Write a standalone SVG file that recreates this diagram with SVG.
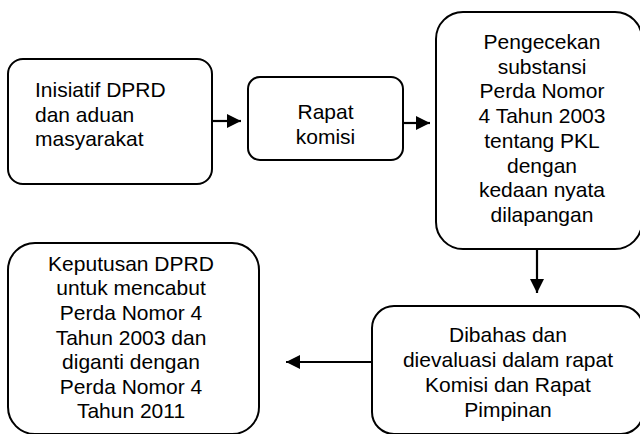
<svg xmlns="http://www.w3.org/2000/svg" width="640" height="434" viewBox="0 0 640 434">
  <defs>
    <style>
      .box { fill: #ffffff; stroke: #000000; stroke-width: 2; }
      .lbl { font-family: "Liberation Sans", Arial, sans-serif; font-size: 21px; fill: #000000; }
      .mid { text-anchor: middle; }
      .conn { stroke: #000000; stroke-width: 2.2; fill: none; marker-end: url(#head); }
    </style>
    <marker id="head" viewBox="0 0 10 10" refX="10" refY="5" markerWidth="6.5" markerHeight="6.5" markerUnits="strokeWidth" orient="auto">
      <path d="M0,0 L10,5 L0,10 z" fill="#000000"/>
    </marker>
  </defs>
  <rect width="640" height="434" fill="#ffffff"/>

  <g id="connectors">
    <line class="conn" x1="212" y1="121" x2="241" y2="121"/>
    <line class="conn" x1="403" y1="123" x2="430" y2="123"/>
    <line class="conn" x1="537" y1="249" x2="537" y2="293"/>
    <line class="conn" x1="372" y1="362" x2="286" y2="362"/>
  </g>

  <g id="inisiatif">
    <rect class="box" x="8" y="59" width="204" height="125" rx="15" ry="15"/>
    <text class="lbl" x="35" y="97">Inisiatif DPRD</text>
    <text class="lbl" x="35" y="121.5">dan aduan</text>
    <text class="lbl" x="35" y="146">masyarakat</text>
  </g>

  <g id="rapat-komisi">
    <rect class="box" x="248" y="77" width="155" height="83" rx="12" ry="12"/>
    <text class="lbl mid" x="325.5" y="119">Rapat</text>
    <text class="lbl mid" x="325.5" y="144">komisi</text>
  </g>

  <g id="pengecekan">
    <rect class="box" x="436" y="12" width="206" height="237" rx="27" ry="27"/>
    <text class="lbl mid" x="542" y="49">Pengecekan</text>
    <text class="lbl mid" x="542" y="73.7">substansi</text>
    <text class="lbl mid" x="542" y="98.4">Perda Nomor</text>
    <text class="lbl mid" x="542" y="123">4 Tahun 2003</text>
    <text class="lbl mid" x="542" y="147.8">tentang PKL</text>
    <text class="lbl mid" x="542" y="172.5">dengan</text>
    <text class="lbl mid" x="542" y="197.2">kedaan nyata</text>
    <text class="lbl mid" x="542" y="222">dilapangan</text>
  </g>

  <g id="dibahas">
    <rect class="box" x="372" y="306" width="271" height="128" rx="22" ry="22"/>
    <text class="lbl mid" x="508" y="341.7">Dibahas dan</text>
    <text class="lbl mid" x="508" y="366.7">dievaluasi dalam rapat</text>
    <text class="lbl mid" x="508" y="391.7">Komisi dan Rapat</text>
    <text class="lbl mid" x="508" y="416.7">Pimpinan</text>
  </g>

  <g id="keputusan">
    <rect class="box" x="8" y="243" width="251" height="191" rx="27" ry="27"/>
    <text class="lbl mid" x="131" y="270.7">Keputusan DPRD</text>
    <text class="lbl mid" x="131" y="295.3">untuk mencabut</text>
    <text class="lbl mid" x="131" y="319.9">Perda Nomor 4</text>
    <text class="lbl mid" x="131" y="344.5">Tahun 2003 dan</text>
    <text class="lbl mid" x="131" y="369.1">diganti dengan</text>
    <text class="lbl mid" x="131" y="393.7">Perda Nomor 4</text>
    <text class="lbl mid" x="131" y="418.3">Tahun 2011</text>
  </g>
</svg>
